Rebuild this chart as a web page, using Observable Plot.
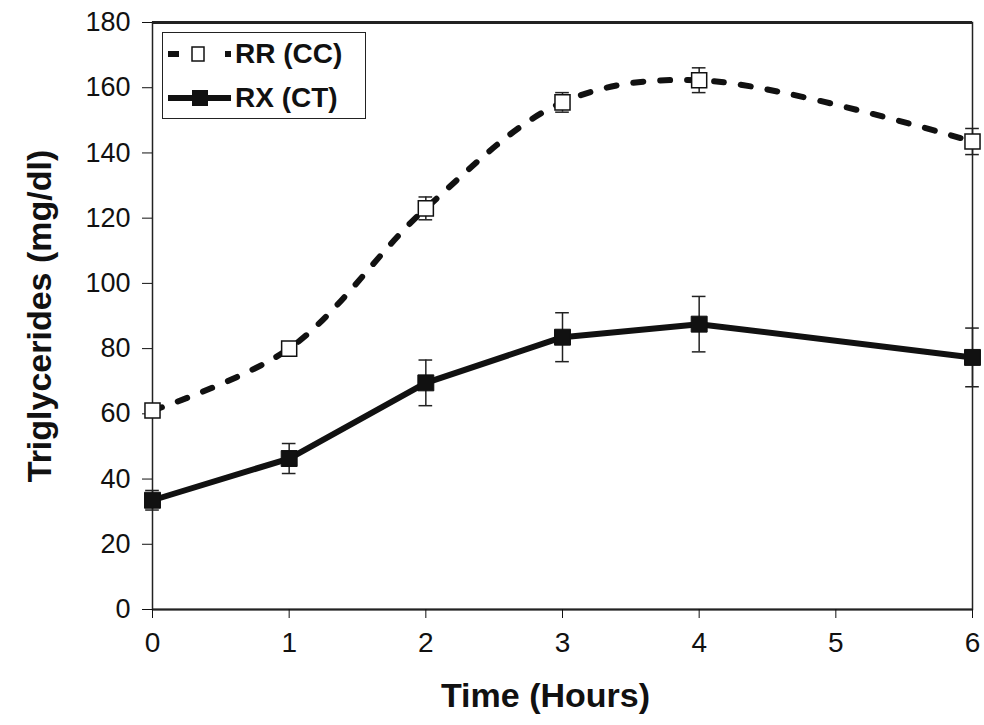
<!DOCTYPE html>
<html><head><meta charset="utf-8">
<script src="https://cdn.jsdelivr.net/npm/d3@7"></script>
<script src="https://cdn.jsdelivr.net/npm/@observablehq/plot@0.6"></script>
<style>
body{margin:0;background:#fff;}
#wrap{position:relative;width:984px;height:725px;font-family:"Liberation Sans",Arial,sans-serif;}
#legend{position:absolute;left:162px;top:32px;width:204px;height:87px;border:1.5px solid #222;box-sizing:border-box;background:#fff;}
.row{position:absolute;left:2px;height:40px;display:flex;align-items:center;}
.row svg{width:68px;height:24px;}
.row span{font-weight:bold;font-size:28px;color:#111;margin-left:2px;}
</style></head><body><div id="wrap"></div><script>
const hours = [0, 1, 2, 3, 4, 6];
const rrMean = [61, 80, 123, 155.5, 162.3, 143.5];
const rrErr = [1, 1.5, 3.5, 3, 3.8, 4];
const rxMean = [33.5, 46.3, 69.5, 83.5, 87.5, 77.3];
const rxErr = [3, 4.6, 7, 7.5, 8.5, 9];
const seriesNames = ["RR (CC)", "RX (CT)"];
const yTicks = [0, 20, 40, 60, 80, 100, 120, 140, 160, 180];
const xTicks = [0, 1, 2, 3, 4, 5, 6];
const xTitle = "Time (Hours)";
const yTitle = "Triglycerides (mg/dl)";

const rows = [];
hours.forEach((t, i) => {
  rows.push({series: seriesNames[0], t, m: rrMean[i], lo: rrMean[i] - rrErr[i], hi: rrMean[i] + rrErr[i]});
  rows.push({series: seriesNames[1], t, m: rxMean[i], lo: rxMean[i] - rxErr[i], hi: rxMean[i] + rxErr[i]});
});
const rr = rows.filter(d => d.series === seriesNames[0]);
const rx = rows.filter(d => d.series === seriesNames[1]);
const capHalf = 0.05;

const chart = Plot.plot({
  width: 984, height: 725,
  marginLeft: 152, marginRight: 12, marginTop: 22, marginBottom: 116,
  style: {fontFamily: '"Liberation Sans", Arial, sans-serif', fontSize: "27px", color: "#111", background: "#fff", overflow: "visible"},
  x: {domain: [0, 6]},
  y: {domain: [0, 180]},
  marks: [
    Plot.frame({stroke: "#222", strokeWidth: 1.5}),
    Plot.ruleY([180], {stroke: "#222", strokeWidth: 3}),
    Plot.ruleY([0], {stroke: "#222", strokeWidth: 2}),
    Plot.axisY({ticks: yTicks, tickSize: 10, tickPadding: 12, label: null, fontSize: 27}),
    Plot.axisX({ticks: xTicks, tickSize: 9, tickPadding: 14, label: null, fontSize: 28, tickFormat: d3.format("d")}),
    Plot.ruleX(rows, {x: "t", y1: "lo", y2: "hi", stroke: "#222", strokeWidth: 1.5}),
    Plot.ruleY(rows, {y: "lo", x1: d => d.t - capHalf, x2: d => d.t + capHalf, stroke: "#222", strokeWidth: 1.5}),
    Plot.ruleY(rows, {y: "hi", x1: d => d.t - capHalf, x2: d => d.t + capHalf, stroke: "#222", strokeWidth: 1.5}),
    Plot.line(rr, {x: "t", y: "m", stroke: "#111", strokeWidth: 6, strokeDasharray: "10,17", curve: "catmull-rom"}),
    Plot.line(rx, {x: "t", y: "m", stroke: "#111", strokeWidth: 6}),
    Plot.dot(rr, {x: "t", y: "m", symbol: "square", r: 8.5, fill: "#fff", stroke: "#111", strokeWidth: 1.5}),
    Plot.dot(rx, {x: "t", y: "m", symbol: "square", r: 9, fill: "#111", stroke: "#111", strokeWidth: 1}),
    Plot.text([xTitle], {frameAnchor: "bottom", dx: -17, dy: 97, fontSize: 34, fontWeight: "bold", fill: "#111"}),
    Plot.text([yTitle], {frameAnchor: "left", textAnchor: "middle", dx: -112, rotate: -90, fontSize: 34, fontWeight: "bold", fill: "#111"})
  ]
});
const wrap = document.getElementById("wrap");
wrap.appendChild(chart);

const legend = document.createElement("div");
legend.id = "legend";
legend.innerHTML = `
<div class="row" style="top:1px">
  <svg viewBox="0 0 68 24"><line x1="3" y1="12" x2="66" y2="12" stroke="#111" stroke-width="6" stroke-dasharray="11,46"/>
  <rect x="27" y="5" width="12" height="14" fill="#fff" stroke="#111" stroke-width="1.5"/></svg><span>${seriesNames[0]}</span></div>
<div class="row" style="top:45px">
  <svg viewBox="0 0 68 24"><line x1="3" y1="12" x2="66" y2="12" stroke="#111" stroke-width="6"/>
  <rect x="27" y="4" width="16" height="16" fill="#111"/></svg><span>${seriesNames[1]}</span></div>`;
wrap.appendChild(legend);
</script></body></html>
